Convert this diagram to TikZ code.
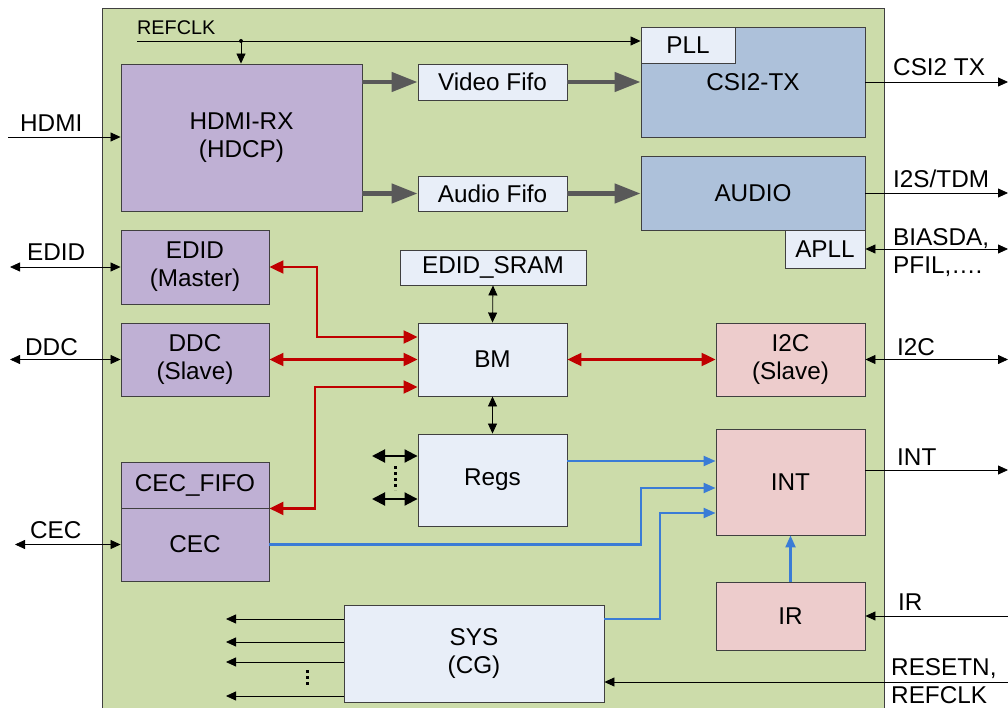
\documentclass[tikz,border=0pt]{standalone}
\usepackage{fontspec}
\setmainfont{Liberation Sans}
\usetikzlibrary{arrows.meta,calc}
\definecolor{panel}{RGB}{204,220,170}
\definecolor{purp}{RGB}{191,176,212}
\definecolor{lite}{RGB}{232,238,248}
\definecolor{csib}{RGB}{173,193,218}
\definecolor{pinkb}{RGB}{237,204,204}
\definecolor{edge}{RGB}{64,64,64}
\definecolor{thickgray}{RGB}{89,89,89}
\definecolor{redl}{RGB}{192,0,0}
\definecolor{bluel}{RGB}{58,124,214}
\begin{document}
\begin{tikzpicture}[x=1pt,y=-1pt,
  blk/.style={draw=edge, line width=0.9pt, inner sep=0pt, align=center, font=\fontsize{24.3}{28}\selectfont},
  lbl/.style={inner sep=0pt, anchor=base west, font=\fontsize{24.3}{28}\selectfont},
  arr/.style={line width=0.8pt, draw=black, -{Triangle[length=10pt,width=9pt]}},
  darr/.style={line width=0.8pt, draw=black, {Triangle[length=10pt,width=9pt]}-{Triangle[length=10pt,width=9pt]}},
  fat/.style={line width=4.5pt, draw=thickgray, -{Triangle[length=26pt,width=19pt]}},
  redarr/.style={line width=2.2pt, draw=redl, {Triangle[length=14pt,width=13pt]}-{Triangle[length=14pt,width=13pt]}},
  bluearr/.style={line width=2.2pt, draw=bluel, -{Triangle[length=12pt,width=10pt]}},
  regarr/.style={line width=2pt, draw=black, {Triangle[length=13pt,width=13pt]}-{Triangle[length=13pt,width=13pt]}},
  dotsline/.style={line width=3pt, dash pattern=on 3pt off 3pt}
]
\useasboundingbox (0,0) rectangle (1008,708);
% panel
\fill[panel] (102,8) rectangle (884,708);
\draw[edge, line width=0.9pt] (102,708) -- (102,8) -- (884,8) -- (884,708);

% blocks
\node[blk, fill=purp, minimum width=241, minimum height=147] (hdmi) at (241.5,137.5) {HDMI-RX\\(HDCP)};
\node[blk, fill=lite, minimum width=149, minimum height=36] (vfifo) at (492.5,82) {Video Fifo};
\node[blk, fill=lite, minimum width=149, minimum height=35] (afifo) at (492.5,193.5) {Audio Fifo};
\node[blk, fill=csib, minimum width=224, minimum height=110] (csi) at (753,82) {CSI2-TX};
\node[blk, fill=lite, minimum width=94, minimum height=36] (pll) at (688,45) {PLL};
\node[blk, fill=csib, minimum width=224, minimum height=74] (audio) at (753,193) {AUDIO};
\node[blk, fill=lite, minimum width=80, minimum height=38] (apll) at (825,249) {APLL};
\node[blk, fill=purp, minimum width=148, minimum height=74] (edid) at (195,267) {EDID\\(Master)};
\node[blk, fill=purp, minimum width=148, minimum height=73] (ddc) at (195,359.5) {DDC\\(Slave)};
\node[blk, fill=lite, minimum width=186, minimum height=35] (sram) at (493,267.5) {EDID\_SRAM};
\node[blk, fill=lite, minimum width=149, minimum height=73] (bm) at (492.5,359.5) {BM};
\node[blk, fill=pinkb, minimum width=149, minimum height=73] (i2c) at (790.5,359.5) {I2C\\(Slave)};
\node[blk, fill=lite, minimum width=149, minimum height=92] (regs) at (492.5,480) {Regs};
\node[blk, fill=pinkb, minimum width=149, minimum height=106] (int) at (790.5,482) {INT};
\node[blk, fill=purp, minimum width=148, minimum height=46] (cecfifo) at (195,485) {CEC\_FIFO};
\node[blk, fill=purp, minimum width=148, minimum height=73] (cec) at (195,544.5) {CEC};
\node[blk, fill=pinkb, minimum width=149, minimum height=68] (ir) at (790.5,616) {IR};
\node[blk, fill=lite, minimum width=260, minimum height=97] (sys) at (474,653.5) {SYS\\(CG)};

% REFCLK
\coordinate (rc) at (137,41);
\coordinate (rcd) at (241,41);
\node[inner sep=0pt, anchor=base west, font=\fontsize{19.8}{22}\selectfont] (rclbl) at (137,35) {REFCLK};
\draw[arr] (rc) -- (pll.west |- rc);
\fill (rcd) circle (2);
\draw[arr] (rcd) -- (hdmi.north -| rcd);

% HDMI in
\coordinate (hin) at (8,137);
\draw[arr] (hin) -- (hdmi.west |- hin);
\node[lbl] (hdmilbl) at (20,132) {HDMI};

% fat arrows
\draw[fat] (hdmi.east |- vfifo) -- (vfifo.west);
\draw[fat] (vfifo.east) -- (csi.west |- vfifo);
\draw[fat] (hdmi.east |- afifo) -- (afifo.west);
\draw[fat] (afifo.east) -- (audio.west |- afifo);

% right side
\coordinate (o1) at (1008,82);
\draw[arr] (csi.east |- o1) -- (o1);
\node[lbl] (csilbl) at (893,76) {CSI2 TX};
\coordinate (o2) at (1008,193);
\draw[arr] (audio.east |- o2) -- (o2);
\node[lbl] (i2slbl) at (893,188) {I2S/TDM};
\coordinate (o3) at (1008,249);
\draw[darr] (apll.east) -- (o3);
\node[lbl] (bialbl) at (893,246) {BIASDA,};
\node[lbl] (pfillbl) at (893,274) {PFIL,\ldots.};
\coordinate (o4) at (1008,359.5);
\draw[darr] (i2c.east) -- (o4);
\node[lbl] (i2clbl) at (897,355) {I2C};
\coordinate (o5) at (1008,470);
\draw[arr] (int.east |- o5) -- (o5);
\node[lbl] (intlbl) at (897,465) {INT};
\coordinate (o6) at (1008,616);
\draw[arr] (o6) -- (ir.east);
\node[lbl] (irlbl) at (898,610) {IR};
\coordinate (o7) at (1008,682);
\draw[arr] (o7) -- (sys.east |- o7);
\node[lbl] (rstlbl) at (891,675) {RESETN,};
\node[lbl] (rclbl2) at (891,703) {REFCLK};

% left side
\coordinate (i1) at (10,267);
\draw[darr] (i1) -- (edid.west);
\node[lbl] (edidlbl) at (27,261) {EDID};
\coordinate (i2) at (10,359.5);
\draw[darr] (i2) -- (ddc.west);
\node[lbl] (ddclbl) at (25,355) {DDC};
\coordinate (i3) at (15,544.5);
\draw[darr] (i3) -- (cec.west);
\node[lbl] (ceclbl) at (30,538) {CEC};

% red
\coordinate (r1) at (317,337);
\draw[redarr] (edid.east) -| (r1) -- (bm.west |- r1);
\draw[redarr] (ddc.east) -- (bm.west);
\coordinate (r3) at (315,387);
\draw[redarr] (cecfifo.south east) -| (r3) -- (bm.west |- r3);
\draw[redarr] (bm.east) -- (i2c.west);

% black verticals
\draw[darr] (sram.south) -- (bm.north);
\draw[darr] (bm.south) -- (regs.north);

% regs left
\coordinate (g1) at (372,456);
\coordinate (g2) at (372,499);
\draw[regarr] (g1) -- (regs.west |- g1);
\draw[regarr] (g2) -- (regs.west |- g2);
\coordinate (gd1) at (395,466);
\coordinate (gd2) at (395,490);
\draw[dotsline] (gd1) -- (gd2);

% blue
\coordinate (b1) at (700,461);
\draw[bluearr] (regs.east |- b1) -- (int.west |- b1);
\coordinate (b2) at (641,488);
\draw[bluearr] (cec.east) -| (b2) -- (int.west |- b2);
\coordinate (b3) at (660,513);
\coordinate (s1) at (604,619);
\draw[bluearr] (sys.east |- s1) -| (b3) -- (int.west |- b3);
\draw[bluearr] (ir.north) -- (int.south);

% sys left
\coordinate (l1) at (226,619);
\coordinate (l2) at (226,642);
\coordinate (l3) at (226,662);
\coordinate (l4) at (226,696);
\draw[arr] (sys.west |- l1) -- (l1);
\draw[arr] (sys.west |- l2) -- (l2);
\draw[arr] (sys.west |- l3) -- (l3);
\draw[arr] (sys.west |- l4) -- (l4);
\coordinate (sd1) at (307,670);
\coordinate (sd2) at (307,688);
\draw[dotsline] (sd1) -- (sd2);
\end{tikzpicture}
\end{document}
